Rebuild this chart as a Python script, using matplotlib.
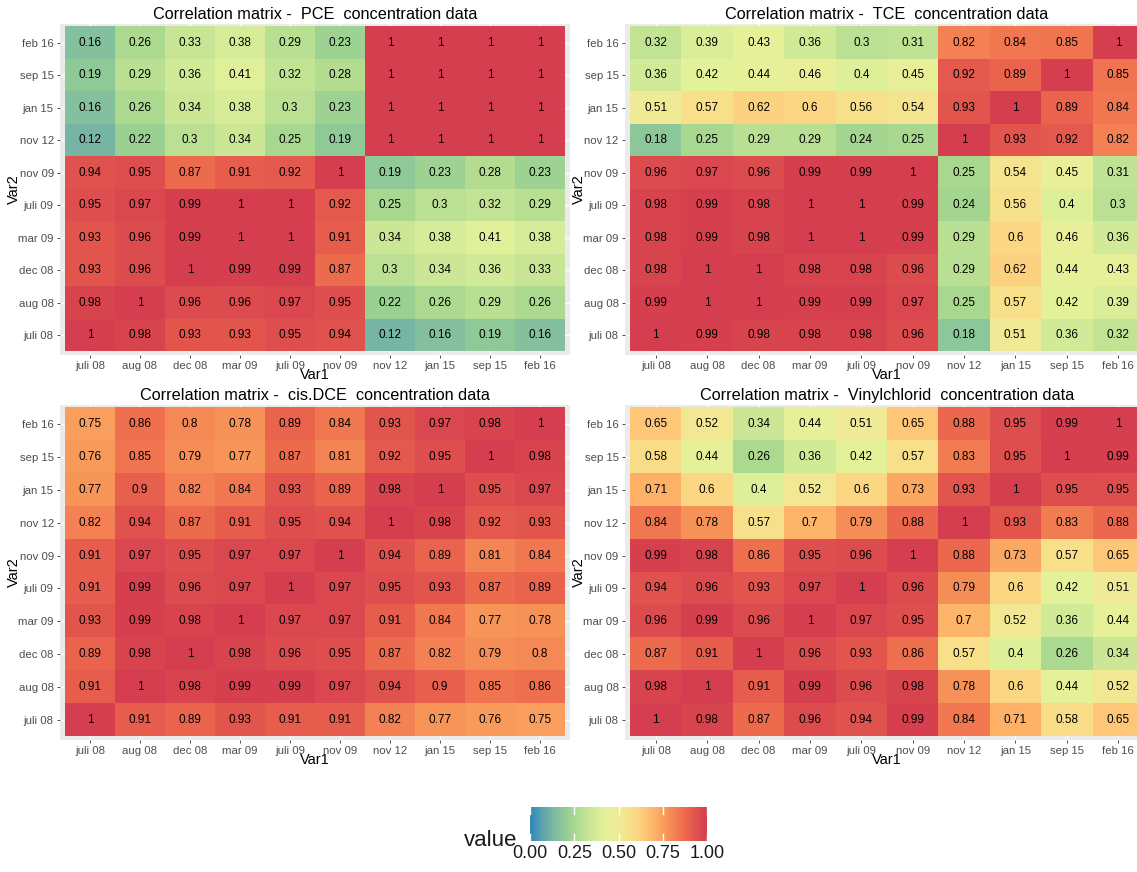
import numpy as np
import matplotlib
matplotlib.use("Agg")
import matplotlib.pyplot as plt
from matplotlib.colors import LinearSegmentedColormap

plt.rcParams['font.family'] = ['Liberation Sans', 'DejaVu Sans']

# sampling dates (Var1 / Var2 order)
dates = ["juli 08", "aug 08", "dec 08", "mar 09", "juli 09",
         "nov 09", "nov 12", "jan 15", "sep 15", "feb 16"]

# rows, top row (feb 16) first
pce_rows = [
    [0.16, 0.26, 0.33, 0.38, 0.29, 0.23, 1, 1, 1, 1],
    [0.19, 0.29, 0.36, 0.41, 0.32, 0.28, 1, 1, 1, 1],
    [0.16, 0.26, 0.34, 0.38, 0.3, 0.23, 1, 1, 1, 1],
    [0.12, 0.22, 0.3, 0.34, 0.25, 0.19, 1, 1, 1, 1],
    [0.94, 0.95, 0.87, 0.91, 0.92, 1, 0.19, 0.23, 0.28, 0.23],
    [0.95, 0.97, 0.99, 1, 1, 0.92, 0.25, 0.3, 0.32, 0.29],
    [0.93, 0.96, 0.99, 1, 1, 0.91, 0.34, 0.38, 0.41, 0.38],
    [0.93, 0.96, 1, 0.99, 0.99, 0.87, 0.3, 0.34, 0.36, 0.33],
    [0.98, 1, 0.96, 0.96, 0.97, 0.95, 0.22, 0.26, 0.29, 0.26],
    [1, 0.98, 0.93, 0.93, 0.95, 0.94, 0.12, 0.16, 0.19, 0.16],
]
tce_rows = [
    [0.32, 0.39, 0.43, 0.36, 0.3, 0.31, 0.82, 0.84, 0.85, 1],
    [0.36, 0.42, 0.44, 0.46, 0.4, 0.45, 0.92, 0.89, 1, 0.85],
    [0.51, 0.57, 0.62, 0.6, 0.56, 0.54, 0.93, 1, 0.89, 0.84],
    [0.18, 0.25, 0.29, 0.29, 0.24, 0.25, 1, 0.93, 0.92, 0.82],
    [0.96, 0.97, 0.96, 0.99, 0.99, 1, 0.25, 0.54, 0.45, 0.31],
    [0.98, 0.99, 0.98, 1, 1, 0.99, 0.24, 0.56, 0.4, 0.3],
    [0.98, 0.99, 0.98, 1, 1, 0.99, 0.29, 0.6, 0.46, 0.36],
    [0.98, 1, 1, 0.98, 0.98, 0.96, 0.29, 0.62, 0.44, 0.43],
    [0.99, 1, 1, 0.99, 0.99, 0.97, 0.25, 0.57, 0.42, 0.39],
    [1, 0.99, 0.98, 0.98, 0.98, 0.96, 0.18, 0.51, 0.36, 0.32],
]
dce_rows = [
    [0.75, 0.86, 0.8, 0.78, 0.89, 0.84, 0.93, 0.97, 0.98, 1],
    [0.76, 0.85, 0.79, 0.77, 0.87, 0.81, 0.92, 0.95, 1, 0.98],
    [0.77, 0.9, 0.82, 0.84, 0.93, 0.89, 0.98, 1, 0.95, 0.97],
    [0.82, 0.94, 0.87, 0.91, 0.95, 0.94, 1, 0.98, 0.92, 0.93],
    [0.91, 0.97, 0.95, 0.97, 0.97, 1, 0.94, 0.89, 0.81, 0.84],
    [0.91, 0.99, 0.96, 0.97, 1, 0.97, 0.95, 0.93, 0.87, 0.89],
    [0.93, 0.99, 0.98, 1, 0.97, 0.97, 0.91, 0.84, 0.77, 0.78],
    [0.89, 0.98, 1, 0.98, 0.96, 0.95, 0.87, 0.82, 0.79, 0.8],
    [0.91, 1, 0.98, 0.99, 0.99, 0.97, 0.94, 0.9, 0.85, 0.86],
    [1, 0.91, 0.89, 0.93, 0.91, 0.91, 0.82, 0.77, 0.76, 0.75],
]
vc_rows = [
    [0.65, 0.52, 0.34, 0.44, 0.51, 0.65, 0.88, 0.95, 0.99, 1],
    [0.58, 0.44, 0.26, 0.36, 0.42, 0.57, 0.83, 0.95, 1, 0.99],
    [0.71, 0.6, 0.4, 0.52, 0.6, 0.73, 0.93, 1, 0.95, 0.95],
    [0.84, 0.78, 0.57, 0.7, 0.79, 0.88, 1, 0.93, 0.83, 0.88],
    [0.99, 0.98, 0.86, 0.95, 0.96, 1, 0.88, 0.73, 0.57, 0.65],
    [0.94, 0.96, 0.93, 0.97, 1, 0.96, 0.79, 0.6, 0.42, 0.51],
    [0.96, 0.99, 0.96, 1, 0.97, 0.95, 0.7, 0.52, 0.36, 0.44],
    [0.87, 0.91, 1, 0.96, 0.93, 0.86, 0.57, 0.4, 0.26, 0.34],
    [0.98, 1, 0.91, 0.99, 0.96, 0.98, 0.78, 0.6, 0.44, 0.52],
    [1, 0.98, 0.87, 0.96, 0.94, 0.99, 0.84, 0.71, 0.58, 0.65],
]

compounds = ["PCE", "TCE", "cis.DCE", "Vinylchlorid"]
matrices = [pce_rows, tce_rows, dce_rows, vc_rows]

cmap = LinearSegmentedColormap.from_list("spec", [
    (0.0, "#3288BD"), (0.12, "#78B6A3"), (0.19, "#90CA98"),
    (0.25, "#A8D88F"), (0.33, "#C8E696"), (0.42, "#E4F29A"),
    (0.51, "#F1EA96"), (0.57, "#F9DF8A"), (0.62, "#FDD280"),
    (0.7, "#FDB66A"), (0.76, "#F99B5B"), (0.87, "#EE6C4D"),
    (1.0, "#D53E4F")])

W, H = 1137, 872
fig = plt.figure(figsize=(W / 100, H / 100), dpi=100)


def pos(l, t, r, b):
    return [l / W, 1 - b / H, (r - l) / W, (b - t) / H]


boxes = [(60, 23.5, 570, 354.5), (625, 23.5, 1149, 354.5),
         (60, 404.5, 570, 739.5), (625, 404.5, 1149, 739.5)]

for name, rows, box in zip(compounds, matrices, boxes):
    ax = fig.add_axes(pos(*box))
    M = np.flipud(np.array(rows, dtype=float))
    ax.set_facecolor("#EBEBEB")
    ax.set_axisbelow(True)
    ax.grid(True, color="white", lw=1)
    ax.imshow(M, cmap=cmap, vmin=0, vmax=1, origin="lower",
              aspect="auto", interpolation="nearest", zorder=2)
    for i in range(M.shape[0]):
        for j in range(M.shape[1]):
            ax.text(j, i, f"{M[i, j]:g}", ha="center", va="center",
                    fontsize=8.5, color="black", zorder=3)
    ax.set_xlim(-0.6, 9.6)
    ax.set_ylim(-0.6, 9.6)
    ax.set_xticks(range(10))
    ax.set_yticks(range(10))
    ax.set_xticklabels(dates)
    ax.set_yticklabels(dates)
    ax.tick_params(length=2.5, width=0.6, color="#333333",
                   labelcolor="#4D4D4D", labelsize=8.2, pad=2)
    for s in ax.spines.values():
        s.set_visible(False)
    ax.set_xlabel("Var1", fontsize=10.5, labelpad=-2)
    ax.set_ylabel("Var2", fontsize=10.5, labelpad=-2)
    ax.set_title(f"Correlation matrix -  {name}  concentration data",
                 fontsize=11.7, pad=3)

# colour legend
cax = fig.add_axes(pos(526, 807, 707, 841))
grad = np.linspace(0, 1, 256).reshape(1, -1)
cax.imshow(grad, cmap=cmap, vmin=0, vmax=1, aspect="auto",
           extent=[0, 1, 0, 1])
cax.set_xlim(-0.023, 1.0)
cax.set_ylim(0, 1)
for t in [0, 0.25, 0.5, 0.75, 1.0]:
    cax.plot([t, t], [0, 0.2], color="white", lw=1)
    cax.plot([t, t], [0.8, 1], color="white", lw=1)
cax.set_xticks([0, 0.25, 0.5, 0.75, 1.0])
cax.set_xticklabels(["0.00", "0.25", "0.50", "0.75", "1.00"])
cax.tick_params(length=0, labelsize=13, labelcolor="#1a1a1a", pad=3)
cax.set_yticks([])
for s in cax.spines.values():
    s.set_visible(False)
fig.text(517 / W, 1 - 840 / H, "value", fontsize=16, ha="right",
         va="center", color="#1a1a1a")

fig.savefig("out.png", dpi=100)
